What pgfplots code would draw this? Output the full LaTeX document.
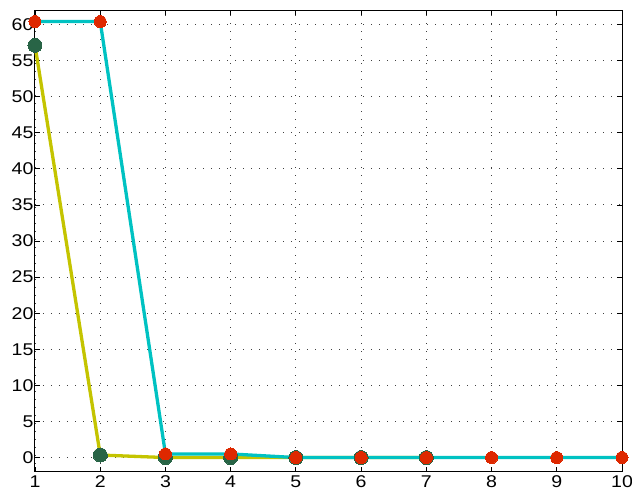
\documentclass[border=0pt]{standalone}
\usepackage{pgfplots}
\pgfplotsset{compat=1.18}
\usepackage{fontspec}
\setmainfont[FakeStretch=1.15]{Liberation Sans}
\definecolor{cyanl}{RGB}{0,194,194}
\definecolor{yell}{RGB}{196,196,0}
\definecolor{dgreen}{RGB}{40,100,70}
\definecolor{redm}{RGB}{222,40,0}
\begin{document}
\begin{tikzpicture}[x=1pt,y=1pt]
\useasboundingbox (-35,-23) rectangle (597,472);
\begin{axis}[
  at={(0,0)}, anchor=south west,
  scale only axis,
  width=587pt, height=462pt,
  xmin=1, xmax=10, ymin=-2, ymax=62,
  xtick={1,...,10}, ytick={0,5,...,60},
  tick align=inside,
  major tick length=5pt,
  grid=major,
  major grid style={black!75, line width=0.9pt, dash pattern=on 0.9pt off 7.1pt},
  axis line style={black, line width=1pt},
  tick style={black, line width=0.8pt},
  ticklabel style={font=\fontsize{17}{19}\selectfont},
  /pgf/number format/assume math mode=true,
  xticklabel shift=0pt,
  yticklabel shift=-2pt,
  clip=false,
]
\addplot[yell, line width=3.3pt, mark=*, mark size=7pt, mark options={fill=dgreen, draw=dgreen, line width=0pt}]
  coordinates {(1,57.1) (2,0.35) (3,0) (4,0) (5,0) (6,0) (7,0)};
\addplot[cyanl, line width=3.3pt, mark=*, mark size=6pt, mark options={fill=redm, draw=redm, line width=0pt}]
  coordinates {(1,60.4) (2,60.4) (3,0.5) (4,0.5) (5,0) (6,0) (7,0) (8,0) (9,0) (10,0)};
\end{axis}
\end{tikzpicture}
\end{document}
